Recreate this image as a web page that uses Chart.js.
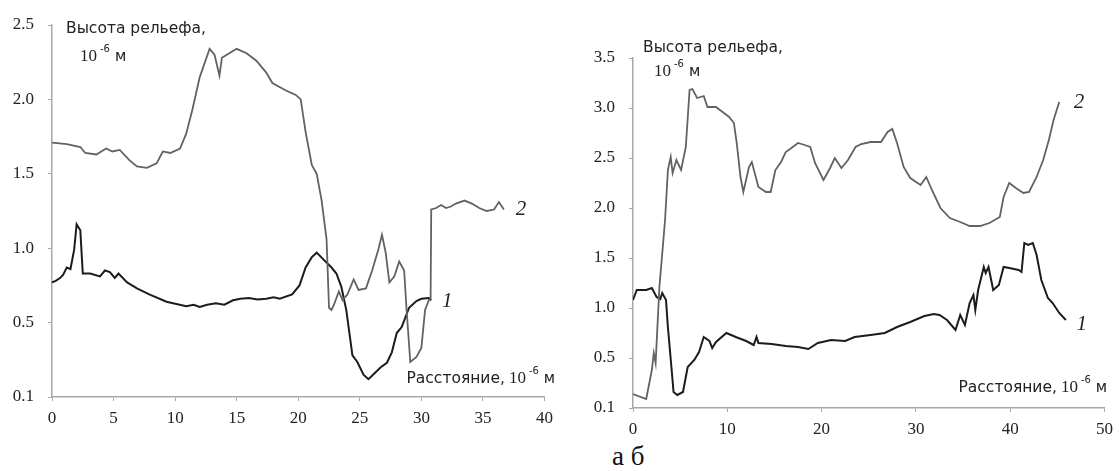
<!DOCTYPE html>
<html>
<head>
<meta charset="utf-8">
<script src="https://cdn.jsdelivr.net/npm/chart.js@4"></script>
<style>
  body { margin: 0; background: #fff; }
  #wrap { position: relative; width: 1120px; height: 471px; overflow: hidden; }
  #chartA { position: absolute; left: 0; top: 0; }
  #chartB { position: absolute; left: 580px; top: 0; }
  #caption { position: absolute; left: 612px; top: 441px; font: 27px 'Liberation Serif', serif; color: #111; }
</style>
</head>
<body>
<div id="wrap">
  <canvas id="chartA" width="560" height="430"></canvas>
  <canvas id="chartB" width="540" height="440"></canvas>
  <div id="caption">а б</div>
</div>
<script>
// ---- panel "а" ----
const aX1 = [0, 0.3, 0.65, 0.9, 1.2, 1.5, 1.8, 2.0, 2.3, 2.5, 3.1, 3.9, 4.3, 4.7, 5.1, 5.4, 6.1, 6.9, 7.9, 9.3, 10.9, 11.5, 12.0, 12.6, 13.3, 14.0, 14.7, 15.3, 16.0, 16.7, 17.4, 18.0, 18.5, 19.5, 20.1, 20.6, 21.1, 21.5, 22.1, 22.7, 23.1, 23.5, 23.9, 24.4, 24.8, 25.3, 25.7, 26.2, 26.7, 27.2, 27.6, 28.0, 28.4, 29.0, 29.6, 30.0, 30.6, 30.8];
const aY1 = [0.77, 0.78, 0.80, 0.82, 0.87, 0.86, 0.99, 1.16, 1.12, 0.83, 0.83, 0.81, 0.85, 0.84, 0.80, 0.83, 0.77, 0.73, 0.69, 0.64, 0.61, 0.62, 0.605, 0.62, 0.63, 0.62, 0.65, 0.66, 0.665, 0.655, 0.66, 0.67, 0.66, 0.69, 0.75, 0.87, 0.94, 0.97, 0.92, 0.87, 0.83, 0.74, 0.585, 0.28, 0.235, 0.15, 0.12, 0.16, 0.20, 0.23, 0.30, 0.43, 0.47, 0.60, 0.645, 0.66, 0.665, 0.65];
const aX2 = [0, 1.2, 2.3, 2.7, 3.6, 4.4, 4.9, 5.5, 6.3, 6.9, 7.7, 8.5, 9.0, 9.6, 10.4, 10.9, 11.4, 12.0, 12.8, 13.2, 13.6, 13.8, 14.4, 15.0, 15.8, 16.6, 17.4, 17.9, 19.0, 19.8, 20.2, 20.6, 21.1, 21.5, 21.9, 22.3, 22.5, 22.7, 22.9, 23.3, 23.6, 24.0, 24.5, 24.9, 25.5, 26.0, 26.5, 26.8, 27.1, 27.4, 27.8, 28.2, 28.6, 28.8, 29.1, 29.6, 30.0, 30.3, 30.6, 30.75, 30.8, 31.2, 31.6, 32.0, 32.4, 32.8, 33.5, 34.1, 34.7, 35.3, 35.9, 36.3, 36.7];
const aY2 = [1.71, 1.70, 1.68, 1.64, 1.63, 1.67, 1.65, 1.66, 1.59, 1.55, 1.54, 1.57, 1.65, 1.64, 1.67, 1.77, 1.93, 2.15, 2.34, 2.30, 2.16, 2.28, 2.31, 2.34, 2.31, 2.26, 2.18, 2.11, 2.06, 2.03, 2.00, 1.78, 1.56, 1.50, 1.32, 1.06, 0.60, 0.585, 0.62, 0.71, 0.65, 0.69, 0.79, 0.72, 0.73, 0.85, 0.99, 1.09, 0.97, 0.77, 0.81, 0.91, 0.85, 0.585, 0.235, 0.27, 0.33, 0.585, 0.65, 0.66, 1.26, 1.27, 1.29, 1.27, 1.28, 1.30, 1.32, 1.30, 1.27, 1.25, 1.26, 1.31, 1.26];
const aYTicks = ['0.1', '0.5', '1.0', '1.5', '2.0', '2.5'];
const aXTicks = [0, 5, 10, 15, 20, 25, 30, 35, 40];
const aCurveLabels = [{ text: '2', x: 38.1, y: 1.26 }, { text: '1', x: 32.1, y: 0.64 }];

// ---- panel "б" ----
const bX1 = [0, 0.4, 1.4, 2.0, 2.5, 2.9, 3.1, 3.5, 3.7, 4.1, 4.3, 4.7, 5.3, 5.6, 5.8, 6.5, 7.0, 7.5, 8.1, 8.4, 8.8, 9.9, 10.9, 12.0, 12.8, 13.1, 13.3, 14.7, 16.2, 17.5, 18.6, 19.6, 21.0, 22.5, 23.5, 25.2, 26.7, 28.0, 29.4, 30.9, 31.9, 32.5, 33.3, 34.2, 34.7, 35.2, 35.7, 36.1, 36.3, 36.6, 37.2, 37.4, 37.7, 38.2, 38.8, 39.3, 39.9, 40.9, 41.2, 41.5, 41.9, 42.4, 42.8, 43.3, 44.0, 44.5, 45.2, 45.9];
const bY1 = [1.08, 1.18, 1.18, 1.20, 1.11, 1.09, 1.15, 1.08, 0.81, 0.38, 0.16, 0.13, 0.16, 0.31, 0.41, 0.48, 0.56, 0.71, 0.67, 0.60, 0.66, 0.75, 0.71, 0.67, 0.63, 0.71, 0.65, 0.64, 0.62, 0.61, 0.59, 0.65, 0.68, 0.67, 0.71, 0.73, 0.75, 0.81, 0.86, 0.92, 0.94, 0.93, 0.88, 0.78, 0.93, 0.83, 1.05, 1.13, 0.98, 1.18, 1.41, 1.35, 1.41, 1.18, 1.23, 1.41, 1.40, 1.38, 1.36, 1.65, 1.63, 1.65, 1.53, 1.28, 1.10, 1.05, 0.95, 0.88];
const bX2 = [0, 1.4, 2.0, 2.2, 2.4, 2.8, 3.4, 3.7, 4.0, 4.2, 4.6, 5.1, 5.6, 6.0, 6.3, 6.8, 7.5, 7.9, 8.8, 9.5, 10.2, 10.7, 11.0, 11.4, 11.7, 12.3, 12.6, 13.3, 14.1, 14.6, 15.1, 15.7, 16.2, 16.8, 17.5, 18.2, 18.8, 19.3, 20.2, 20.9, 21.4, 22.1, 22.8, 23.6, 24.2, 25.2, 26.3, 27.0, 27.5, 28.0, 28.7, 29.4, 30.5, 31.1, 31.7, 32.6, 33.6, 34.7, 35.7, 36.8, 37.8, 38.9, 39.3, 39.9, 40.6, 41.4, 42.0, 42.8, 43.5, 44.1, 44.6, 45.2];
const bY2 = [0.14, 0.09, 0.38, 0.55, 0.45, 1.21, 1.88, 2.38, 2.51, 2.35, 2.48, 2.38, 2.61, 3.18, 3.19, 3.10, 3.12, 3.01, 3.01, 2.96, 2.91, 2.85, 2.65, 2.31, 2.16, 2.41, 2.46, 2.21, 2.16, 2.16, 2.38, 2.46, 2.56, 2.60, 2.65, 2.63, 2.61, 2.45, 2.28, 2.40, 2.50, 2.40, 2.48, 2.61, 2.64, 2.66, 2.66, 2.76, 2.79, 2.65, 2.41, 2.30, 2.23, 2.31, 2.18, 2.00, 1.90, 1.86, 1.82, 1.82, 1.85, 1.91, 2.11, 2.25, 2.20, 2.15, 2.16, 2.31, 2.48, 2.68, 2.88, 3.06];
const bYTicks = ['0.1', '0.5', '1.0', '1.5', '2.0', '2.5', '3.0', '3.5'];
const bXTicks = [0, 10, 20, 30, 40, 50];
const bCurveLabels = [{ text: '2', x: 47.3, y: 3.06 }, { text: '1', x: 47.6, y: 0.84 }];

const yTitle = 'Высота рельефа,';
const xTitle = 'Расстояние,';

const black = '#1c1c1c';
const gray = '#626262';
const axisColor = '#a8a8a8';
const tickFont = { family: "'Liberation Serif', serif", size: 17 };
const sans = "'DejaVu Sans', sans-serif";
const serif = "'Liberation Serif', serif";

const toPoints = (xs, ys) => xs.map((x, i) => ({ x: x, y: ys[i] }));

// "10⁻⁶ м" drawn as pieces
function drawUnit(ctx, x, y) {
    ctx.font = '17px ' + serif;
    ctx.fillText('10', x, y);
    x += ctx.measureText('10').width + 3;
    ctx.font = '10px ' + sans;
    ctx.fillText('-6', x, y - 9);
    x += ctx.measureText('-6').width + 5;
    ctx.font = '15px ' + sans;
    ctx.fillText('м', x, y);
}

function textPlugin(opt) {
    return {
        id: 'texts',
        afterDraw(chart) {
            const ctx = chart.ctx;
            const a = chart.chartArea;
            const sx = chart.scales.x, sy = chart.scales.y;
            ctx.save();
            ctx.fillStyle = '#222';
            ctx.textAlign = 'left';
            ctx.textBaseline = 'alphabetic';
            // y title
            ctx.font = '15.5px ' + sans;
            ctx.fillText(yTitle, a.left + opt.yt[0], a.top + opt.yt[1]);
            drawUnit(ctx, a.left + opt.yu[0], a.top + opt.yu[1]);
            // x title
            ctx.font = '15.5px ' + sans;
            const xl = a.right + opt.xt[0], xb = a.bottom + opt.xt[1];
            ctx.fillText(xTitle, xl, xb);
            drawUnit(ctx, xl + ctx.measureText(xTitle).width + 4, xb);
            // curve numbers
            ctx.font = 'italic 21px ' + serif;
            ctx.textAlign = 'center';
            ctx.textBaseline = 'middle';
            opt.labels.forEach(l => ctx.fillText(l.text, sx.getPixelForValue(l.x), sy.getPixelForValue(l.y)));
            ctx.restore();
        }
    };
}

function makeChart(id, s1, s2, xMax, xStep, yMax, yLabels, yWidth, xHeight, padding, opt) {
    return new Chart(document.getElementById(id), {
        type: 'scatter',
        data: {
            datasets: [
                { data: s2, borderColor: gray, borderWidth: 1.8, showLine: true, pointRadius: 0, tension: 0 },
                { data: s1, borderColor: black, borderWidth: 2, showLine: true, pointRadius: 0, tension: 0 }
            ]
        },
        options: {
            responsive: false,
            animation: false,
            devicePixelRatio: 1,
            layout: { padding: padding },
            plugins: { legend: { display: false }, tooltip: { enabled: false } },
            scales: {
                x: {
                    type: 'linear', min: 0, max: xMax,
                    afterFit: (s) => { s.height = xHeight; },
                    ticks: { stepSize: xStep, font: tickFont, color: '#222', padding: 7, maxRotation: 0 },
                    grid: { drawOnChartArea: false, drawTicks: true, tickLength: 4, color: axisColor },
                    border: { color: axisColor, width: 1.5 }
                },
                y: {
                    type: 'linear', min: 0, max: yMax,
                    afterFit: (s) => { s.width = yWidth; },
                    ticks: {
                        stepSize: 0.5, font: tickFont, color: '#222', padding: 14,
                        callback: (v) => yLabels[Math.round(v / 0.5)]
                    },
                    grid: { drawOnChartArea: false, drawTicks: true, tickLength: 4, color: axisColor },
                    border: { color: axisColor, width: 1.5 }
                }
            }
        },
        plugins: [textPlugin(opt)]
    });
}

makeChart('chartA', toPoints(aX1, aY1), toPoints(aX2, aY2), 40, 5, 2.5, aYTicks, 52, 33,
    { top: 25, right: 14, left: 0, bottom: 0 },
    { yt: [14, 8], yu: [28, 36], xt: [-138, -14], labels: aCurveLabels });

makeChart('chartB', toPoints(bX1, bY1), toPoints(bX2, bY2), 50, 10, 3.5, bYTicks, 53, 32,
    { top: 58, right: 11, left: 0, bottom: 0 },
    { yt: [10, -6], yu: [21, 18], xt: [-146, -16], labels: bCurveLabels });
</script>
</body>
</html>
